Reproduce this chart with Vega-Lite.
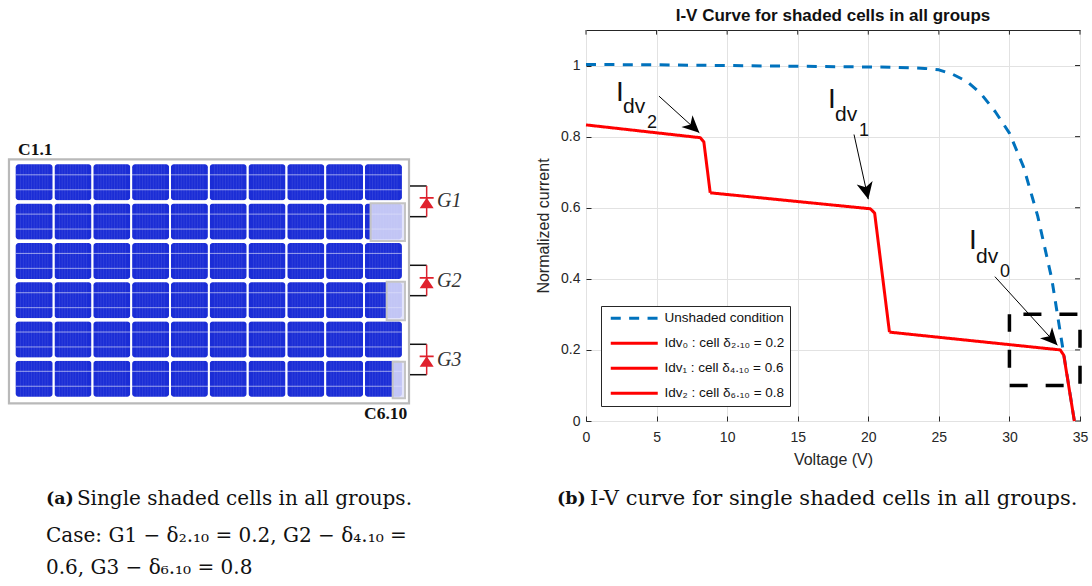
{"$schema":"https://vega.github.io/schema/vega-lite/v6.json","padding":{"top":6,"left":0,"right":0,"bottom":0},"background":"white","spacing":35,"config":{"view":{"stroke":null},"font":"Liberation Sans"},"datasets":{"cells":[{"col":1,"row":1},{"col":2,"row":1},{"col":3,"row":1},{"col":4,"row":1},{"col":5,"row":1},{"col":6,"row":1},{"col":7,"row":1},{"col":8,"row":1},{"col":9,"row":1},{"col":10,"row":1},{"col":1,"row":2},{"col":2,"row":2},{"col":3,"row":2},{"col":4,"row":2},{"col":5,"row":2},{"col":6,"row":2},{"col":7,"row":2},{"col":8,"row":2},{"col":9,"row":2},{"col":10,"row":2},{"col":1,"row":3},{"col":2,"row":3},{"col":3,"row":3},{"col":4,"row":3},{"col":5,"row":3},{"col":6,"row":3},{"col":7,"row":3},{"col":8,"row":3},{"col":9,"row":3},{"col":10,"row":3},{"col":1,"row":4},{"col":2,"row":4},{"col":3,"row":4},{"col":4,"row":4},{"col":5,"row":4},{"col":6,"row":4},{"col":7,"row":4},{"col":8,"row":4},{"col":9,"row":4},{"col":10,"row":4},{"col":1,"row":5},{"col":2,"row":5},{"col":3,"row":5},{"col":4,"row":5},{"col":5,"row":5},{"col":6,"row":5},{"col":7,"row":5},{"col":8,"row":5},{"col":9,"row":5},{"col":10,"row":5},{"col":1,"row":6},{"col":2,"row":6},{"col":3,"row":6},{"col":4,"row":6},{"col":5,"row":6},{"col":6,"row":6},{"col":7,"row":6},{"col":8,"row":6},{"col":9,"row":6},{"col":10,"row":6}],"busbars":[{"r":0.81},{"r":1.19},{"r":1.81},{"r":2.19},{"r":2.81},{"r":3.19},{"r":3.81},{"r":4.19},{"r":4.81},{"r":5.19},{"r":5.81},{"r":6.19}],"fingers":[{"c":0.65},{"c":0.72},{"c":0.79},{"c":0.86},{"c":0.93},{"c":1.0},{"c":1.07},{"c":1.14},{"c":1.21},{"c":1.28},{"c":1.35},{"c":1.65},{"c":1.72},{"c":1.79},{"c":1.86},{"c":1.93},{"c":2.0},{"c":2.07},{"c":2.14},{"c":2.21},{"c":2.28},{"c":2.35},{"c":2.65},{"c":2.72},{"c":2.79},{"c":2.86},{"c":2.93},{"c":3.0},{"c":3.07},{"c":3.14},{"c":3.21},{"c":3.28},{"c":3.35},{"c":3.65},{"c":3.72},{"c":3.79},{"c":3.86},{"c":3.93},{"c":4.0},{"c":4.07},{"c":4.14},{"c":4.21},{"c":4.28},{"c":4.35},{"c":4.65},{"c":4.72},{"c":4.79},{"c":4.86},{"c":4.93},{"c":5.0},{"c":5.07},{"c":5.14},{"c":5.21},{"c":5.28},{"c":5.35},{"c":5.65},{"c":5.72},{"c":5.79},{"c":5.86},{"c":5.93},{"c":6.0},{"c":6.07},{"c":6.14},{"c":6.21},{"c":6.28},{"c":6.35},{"c":6.65},{"c":6.72},{"c":6.79},{"c":6.86},{"c":6.93},{"c":7.0},{"c":7.07},{"c":7.14},{"c":7.21},{"c":7.28},{"c":7.35},{"c":7.65},{"c":7.72},{"c":7.79},{"c":7.86},{"c":7.93},{"c":8.0},{"c":8.07},{"c":8.14},{"c":8.21},{"c":8.28},{"c":8.35},{"c":8.65},{"c":8.72},{"c":8.79},{"c":8.86},{"c":8.93},{"c":9.0},{"c":9.07},{"c":9.14},{"c":9.21},{"c":9.28},{"c":9.35},{"c":9.65},{"c":9.72},{"c":9.79},{"c":9.86},{"c":9.93},{"c":10.0},{"c":10.07},{"c":10.14},{"c":10.21},{"c":10.28},{"c":10.35}],"colGaps":[{"c":1.5},{"c":2.5},{"c":3.5},{"c":4.5},{"c":5.5},{"c":6.5},{"c":7.5},{"c":8.5},{"c":9.5}],"rowGaps":[{"r":1.5},{"r":2.5},{"r":3.5},{"r":4.5},{"r":5.5}],"shaded":[{"cell":"C2.10","c0":9.67,"c1":10.556,"r0":1.534,"r1":2.494},{"cell":"C4.10","c0":10.085,"c1":10.556,"r0":3.529,"r1":4.511},{"cell":"C6.10","c0":10.24,"c1":10.556,"r0":5.565,"r1":6.496}],"groups":[{"group":"G1","top":1.094,"mid":1.48,"bottom":1.875},{"group":"G2","top":3.112,"mid":3.515,"bottom":3.885},{"group":"G3","top":5.122,"mid":5.515,"bottom":5.896}],"curves":[{"series":"Unshaded condition","V":0,"I":1.003},{"series":"Unshaded condition","V":5,"I":1.002},{"series":"Unshaded condition","V":10,"I":1.0},{"series":"Unshaded condition","V":15,"I":0.998},{"series":"Unshaded condition","V":20,"I":0.996},{"series":"Unshaded condition","V":22,"I":0.995},{"series":"Unshaded condition","V":24,"I":0.992},{"series":"Unshaded condition","V":25,"I":0.988},{"series":"Unshaded condition","V":26,"I":0.975},{"series":"Unshaded condition","V":27,"I":0.955},{"series":"Unshaded condition","V":28,"I":0.92},{"series":"Unshaded condition","V":29,"I":0.87},{"series":"Unshaded condition","V":30,"I":0.81},{"series":"Unshaded condition","V":31,"I":0.715},{"series":"Unshaded condition","V":32,"I":0.577},{"series":"Unshaded condition","V":33,"I":0.4},{"series":"Unshaded condition","V":33.8,"I":0.2},{"series":"Unshaded condition","V":34.2,"I":0.1},{"series":"Unshaded condition","V":34.6,"I":0},{"series":"Idv₂ : cell δ₆.₁₀ = 0.8","V":0,"I":0.833},{"series":"Idv₂ : cell δ₆.₁₀ = 0.8","V":8.1,"I":0.797},{"series":"Idv₂ : cell δ₆.₁₀ = 0.8","V":8.35,"I":0.785},{"series":"Idv₂ : cell δ₆.₁₀ = 0.8","V":8.8,"I":0.642},{"series":"Idv₁ : cell δ₄.₁₀ = 0.6","V":8.8,"I":0.642},{"series":"Idv₁ : cell δ₄.₁₀ = 0.6","V":20.15,"I":0.597},{"series":"Idv₁ : cell δ₄.₁₀ = 0.6","V":20.45,"I":0.585},{"series":"Idv₁ : cell δ₄.₁₀ = 0.6","V":21.5,"I":0.25},{"series":"Idv₀ : cell δ₂.₁₀ = 0.2","V":21.5,"I":0.25},{"series":"Idv₀ : cell δ₂.₁₀ = 0.2","V":33.6,"I":0.2},{"series":"Idv₀ : cell δ₂.₁₀ = 0.2","V":33.85,"I":0.185},{"series":"Idv₀ : cell δ₂.₁₀ = 0.2","V":34.6,"I":0}],"arrows":[{"label":"Idv2","V0":5.17,"I0":0.914,"V1":8.03,"I1":0.811,"heading":-47},{"label":"Idv1","V0":18.99,"I0":0.806,"V1":20.0,"I1":0.624,"heading":-12.4},{"label":"Idv0","V0":28.97,"I0":0.406,"V1":33.4,"I1":0.213,"heading":-42.2}]},"hconcat":[{"width":500,"height":557,"layer":[{"data":{"name":"cells"},"mark":{"type":"rect","width":37,"height":36,"cornerRadius":3,"fill":"#1b2dd6"},"encoding":{"x":{"field":"col","type":"quantitative","axis":null,"scale":{"domain":[0.1186,13.005],"nice":false,"zero":false}},"y":{"field":"row","type":"quantitative","axis":null,"scale":{"domain":[-2.875,11.298],"nice":false,"zero":false,"reverse":true}}}},{"data":{"name":"fingers"},"mark":{"type":"rule","stroke":"#ffffff","strokeOpacity":0.09,"strokeWidth":1},"encoding":{"x":{"field":"c","type":"quantitative","axis":null},"y":{"datum":0.54,"type":"quantitative","axis":null},"y2":{"datum":6.46}}},{"data":{"name":"busbars"},"mark":{"type":"rule","stroke":"#ffffff","strokeOpacity":0.55,"strokeWidth":1},"encoding":{"y":{"field":"r","type":"quantitative","axis":null},"x":{"datum":0.53,"type":"quantitative","axis":null},"x2":{"datum":10.47}}},{"data":{"name":"colGaps"},"mark":{"type":"rule","stroke":"#ffffff","strokeWidth":1.8},"encoding":{"x":{"field":"c","type":"quantitative","axis":null},"y":{"datum":0.54,"type":"quantitative","axis":null},"y2":{"datum":6.46}}},{"data":{"name":"rowGaps"},"mark":{"type":"rule","stroke":"#ffffff","strokeWidth":3},"encoding":{"y":{"field":"r","type":"quantitative","axis":null},"x":{"datum":0.52,"type":"quantitative","axis":null},"x2":{"datum":10.48}}},{"data":{"name":"shaded"},"mark":{"type":"rect","fill":"#dfe1fa","fillOpacity":0.85,"stroke":"#c4c4c4","strokeWidth":2},"encoding":{"x":{"field":"c0","type":"quantitative","axis":null},"x2":{"field":"c1"},"y":{"field":"r0","type":"quantitative","axis":null},"y2":{"field":"r1"}}},{"data":{"values":[{"c0":0.35,"c1":10.66,"r0":0.415,"r1":6.625}]},"mark":{"type":"rect","fillOpacity":0,"fill":"white","stroke":"#b9b9b9","strokeWidth":2.2},"encoding":{"x":{"field":"c0","type":"quantitative","axis":null},"x2":{"field":"c1"},"y":{"field":"r0","type":"quantitative","axis":null},"y2":{"field":"r1"}}},{"data":{"name":"groups"},"mark":{"type":"rule","stroke":"#111111","strokeWidth":1.5},"encoding":{"y":{"field":"top","type":"quantitative","axis":null},"x":{"datum":10.685,"type":"quantitative","axis":null},"x2":{"datum":11.115}}},{"data":{"name":"groups"},"mark":{"type":"rule","stroke":"#111111","strokeWidth":1.5},"encoding":{"y":{"field":"bottom","type":"quantitative","axis":null},"x":{"datum":10.685,"type":"quantitative","axis":null},"x2":{"datum":11.115}}},{"data":{"name":"groups"},"mark":{"type":"rule","stroke":"#d8232f","strokeWidth":1.5},"encoding":{"y":{"field":"top","type":"quantitative","axis":null},"y2":{"field":"bottom"},"x":{"datum":11.115,"type":"quantitative","axis":null}}},{"data":{"name":"groups"},"mark":{"type":"point","filled":true,"opacity":1,"color":"#e0202c","size":196,"shape":"M-1,-0.6H1V-0.35H0.1L1,1H-1L-0.1,-0.35H-1Z"},"encoding":{"y":{"field":"mid","type":"quantitative","axis":null},"x":{"datum":11.115,"type":"quantitative","axis":null}}},{"data":{"name":"groups"},"mark":{"type":"text","align":"left","baseline":"middle","font":"Liberation Serif","fontStyle":"italic","fontSize":20,"color":"#333333"},"encoding":{"text":{"field":"group"},"y":{"field":"mid","type":"quantitative","axis":null},"x":{"datum":11.38,"type":"quantitative","axis":null}}},{"data":{"values":[{"t":"C1.1","c":0.583,"r":0.178},{"t":"C6.10","c":9.5,"r":6.9}]},"mark":{"type":"text","align":"left","baseline":"middle","font":"Liberation Serif","fontWeight":"bold","fontSize":17.5,"color":"#111111"},"encoding":{"text":{"field":"t"},"x":{"field":"c","type":"quantitative","axis":null},"y":{"field":"r","type":"quantitative","axis":null}}},{"data":{"values":[{"t":"(a)","c":1.304,"r":9.06}]},"mark":{"type":"text","align":"left","baseline":"middle","font":"DejaVu Serif","fontWeight":"bold","fontSize":17.5,"color":"#111111"},"encoding":{"text":{"field":"t"},"x":{"field":"c","type":"quantitative","axis":null},"y":{"field":"r","type":"quantitative","axis":null}}},{"data":{"values":[{"t":"Single shaded cells in all groups.","c":2.1,"r":9.06},{"t":"Case: G1 − δ₂.₁₀ = 0.2, G2 − δ₄.₁₀ =","c":1.304,"r":10.0},{"t":"0.6, G3 − δ₆.₁₀ = 0.8","c":1.304,"r":10.81}]},"mark":{"type":"text","align":"left","baseline":"middle","font":"DejaVu Serif","fontSize":20,"color":"#111111"},"encoding":{"text":{"field":"t"},"x":{"field":"c","type":"quantitative","axis":null},"y":{"field":"r","type":"quantitative","axis":null}}}]},{"width":494,"height":391,"view":{"stroke":"#262626","strokeWidth":1},"title":{"text":"I-V Curve for shaded cells in all groups","font":"Liberation Sans","fontSize":17,"fontWeight":"bold","color":"#111111","anchor":"middle","offset":5},"layer":[{"data":{"values":[{"V":0},{"V":5},{"V":10},{"V":15},{"V":20},{"V":25},{"V":30},{"V":35}]},"mark":{"type":"rule","stroke":"#262626","strokeWidth":1},"encoding":{"x":{"field":"V","type":"quantitative","scale":{"domain":[0,35],"nice":false,"zero":false},"axis":{"title":"Voltage (V)","values":[0,5,10,15,20,25,30,35],"grid":true,"gridColor":"#e2e2e2","gridWidth":1,"domain":false,"tickSize":-5,"tickColor":"#262626","labelPadding":14,"labelFlush":false,"labelFont":"Liberation Sans","labelFontSize":14,"labelColor":"#262626","titleFont":"Liberation Sans","titleFontSize":16,"titleFontWeight":"normal","titleColor":"#262626","titlePadding":7}},"y":{"datum":1.1,"type":"quantitative","scale":{"domain":[0,1.1],"nice":false,"zero":false},"axis":{"title":"Normalized current","format":"~g","values":[0,0.2,0.4,0.6,0.8,1],"grid":true,"gridColor":"#e2e2e2","gridWidth":1,"domain":false,"tickSize":-5,"tickColor":"#262626","labelPadding":11,"labelFlush":false,"labelFont":"Liberation Sans","labelFontSize":14,"labelColor":"#262626","titleFont":"Liberation Sans","titleFontSize":16,"titleFontWeight":"normal","titleColor":"#262626","titlePadding":9}},"y2":{"datum":1.087}}},{"data":{"values":[{"I":0},{"I":0.2},{"I":0.4},{"I":0.6},{"I":0.8},{"I":1}]},"mark":{"type":"rule","stroke":"#262626","strokeWidth":1},"encoding":{"y":{"field":"I","type":"quantitative"},"x":{"datum":35,"type":"quantitative"},"x2":{"datum":34.65}}},{"data":{"name":"curves"},"mark":{"type":"line","strokeWidth":3,"strokeCap":"butt","strokeJoin":"round"},"encoding":{"x":{"field":"V","type":"quantitative"},"y":{"field":"I","type":"quantitative"},"color":{"field":"series","type":"nominal","title":null,"scale":{"domain":["Unshaded condition","Idv₀ : cell δ₂.₁₀ = 0.2","Idv₁ : cell δ₄.₁₀ = 0.6","Idv₂ : cell δ₆.₁₀ = 0.8"],"range":["#0072bd","#ff0000","#ff0000","#ff0000"]},"legend":{"orient":"none","legendX":601,"legendY":276,"fillColor":"white","strokeColor":"#262626","padding":5.5,"rowPadding":10,"labelFont":"Liberation Sans","labelFontSize":13.5,"labelColor":"#111111","labelLimit":300,"labelOffset":44.5,"symbolType":"M-0.5,0H8.9","symbolSize":100,"symbolStrokeWidth":3}},"strokeDash":{"field":"series","type":"nominal","title":null,"scale":{"domain":["Unshaded condition","Idv₀ : cell δ₂.₁₀ = 0.2","Idv₁ : cell δ₄.₁₀ = 0.6","Idv₂ : cell δ₆.₁₀ = 0.8"],"range":[[10,8.4],[1,0],[1,0],[1,0]]}}}},{"data":{"values":[{"V0":30,"V1":35,"I0":0.1,"I1":0.3}]},"mark":{"type":"rect","fill":"white","fillOpacity":0,"stroke":"#000000","strokeWidth":3.5,"strokeDash":[18,18],"strokeDashOffset":22},"encoding":{"x":{"field":"V0","type":"quantitative"},"x2":{"field":"V1"},"y":{"field":"I0","type":"quantitative"},"y2":{"field":"I1"}}},{"data":{"name":"arrows"},"mark":{"type":"rule","stroke":"#000000","strokeWidth":1},"encoding":{"x":{"field":"V0","type":"quantitative"},"x2":{"field":"V1"},"y":{"field":"I0","type":"quantitative"},"y2":{"field":"I1"}}},{"data":{"name":"arrows"},"mark":{"type":"point","filled":true,"opacity":1,"color":"#000000","size":1150,"shape":"M0,0L-0.48,-1L0,-0.72L0.48,-1Z"},"encoding":{"x":{"field":"V1","type":"quantitative"},"y":{"field":"I1","type":"quantitative"},"angle":{"field":"heading","type":"quantitative","scale":null}}},{"data":{"values":[{"t":"I","V":2.13,"I":0.9},{"t":"I","V":17.15,"I":0.881},{"t":"I","V":27.14,"I":0.484}]},"mark":{"type":"text","align":"left","baseline":"alphabetic","font":"Liberation Sans","fontSize":28,"color":"#111111"},"encoding":{"text":{"field":"t"},"x":{"field":"V","type":"quantitative"},"y":{"field":"I","type":"quantitative"}}},{"data":{"values":[{"t":"dv","V":2.62,"I":0.866},{"t":"dv","V":17.64,"I":0.844},{"t":"dv","V":27.63,"I":0.444}]},"mark":{"type":"text","align":"left","baseline":"alphabetic","font":"Liberation Sans","fontSize":21,"color":"#111111"},"encoding":{"text":{"field":"t"},"x":{"field":"V","type":"quantitative"},"y":{"field":"I","type":"quantitative"}}},{"data":{"values":[{"t":"2","V":4.32,"I":0.824},{"t":"1","V":19.34,"I":0.802},{"t":"0","V":29.33,"I":0.405}]},"mark":{"type":"text","align":"left","baseline":"alphabetic","font":"Liberation Sans","fontSize":18,"color":"#111111"},"encoding":{"text":{"field":"t"},"x":{"field":"V","type":"quantitative"},"y":{"field":"I","type":"quantitative"}}},{"data":{"values":[{"t":"(b)","V":-2.05,"I":-0.219}]},"mark":{"type":"text","align":"left","baseline":"middle","font":"DejaVu Serif","fontWeight":"bold","fontSize":17.5,"color":"#111111"},"encoding":{"text":{"field":"t"},"x":{"field":"V","type":"quantitative"},"y":{"field":"I","type":"quantitative"}}},{"data":{"values":[{"t":"I-V curve for single shaded cells in all groups.","V":0.28,"I":-0.219}]},"mark":{"type":"text","align":"left","baseline":"middle","font":"DejaVu Serif","fontSize":21,"color":"#111111"},"encoding":{"text":{"field":"t"},"x":{"field":"V","type":"quantitative"},"y":{"field":"I","type":"quantitative"}}}]}]}
